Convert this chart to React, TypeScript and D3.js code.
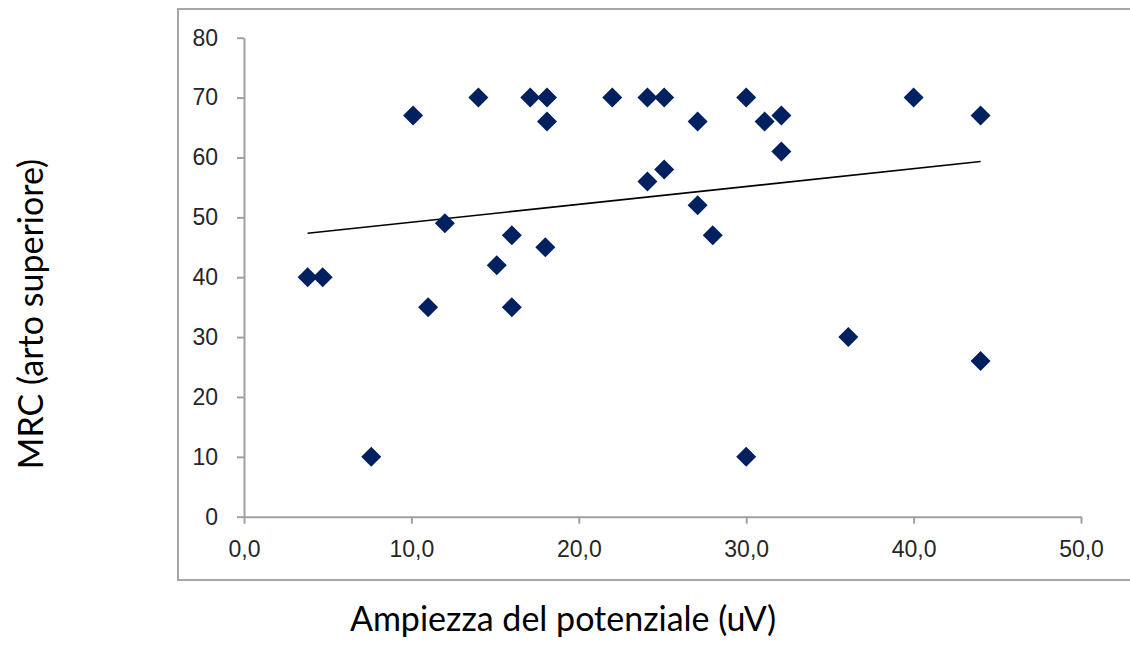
import { useEffect, useRef } from 'react';
import * as d3 from 'd3';

// values
const ampiezza = [3.8, 4.7, 7.6, 10.1, 11, 12, 14, 15.1, 16, 16, 17.1, 18.1, 18.1, 18, 22, 24.1, 24.1, 25.1, 25.1, 27.1, 27.1, 28, 30, 30, 31.1, 32.1, 32.1, 36.1, 40, 44, 44];
const mrc = [40, 40, 10, 67, 35, 49, 70, 42, 47, 35, 70, 70, 66, 45, 70, 70, 56, 70, 58, 66, 52, 47, 70, 10, 66, 67, 61, 30, 70, 67, 26];
const xTicks = [0, 10, 20, 30, 40, 50];
const yTicks = [0, 10, 20, 30, 40, 50, 60, 70, 80];

const width = 1130;
const height = 651;

const App = () => {
  const svgRef = useRef<SVGSVGElement>(null);

  useEffect(() => {
    document.body.style.margin = '0';
    const svg = d3.select(svgRef.current);
    svg.selectAll('*').remove();

    const x = d3.scaleLinear().domain([0, 50]).range([244, 1081]);
    const y = d3.scaleLinear().domain([0, 80]).range([516.7, 37.7]);

    // chart area border (no right edge visible in the reference)
    svg.append('path')
      .attr('d', `M${width + 5},9 H178 V580 H${width + 5}`)
      .attr('fill', 'none')
      .attr('stroke', '#a6a6a6')
      .attr('stroke-width', 2);

    const axisColor = '#a0a0a0';
    const tickFont = '"Liberation Sans", Arial, sans-serif';

    const gx = svg.append('g')
      .attr('transform', `translate(0,${y(0)})`)
      .call(d3.axisBottom(x).tickValues(xTicks).tickSize(7).tickSizeOuter(0)
        .tickFormat(d => (d as number).toFixed(1).replace('.', ',')));

    const gy = svg.append('g')
      .attr('transform', `translate(${x(0)},0)`)
      .call(d3.axisLeft(y).tickValues(yTicks).tickSize(7).tickSizeOuter(0));

    [gx, gy].forEach(g => {
      g.select('.domain').attr('stroke', axisColor).attr('stroke-width', 2);
      g.selectAll('.tick line').attr('stroke', axisColor).attr('stroke-width', 2);
      g.selectAll('.tick text')
        .attr('fill', '#262626')
        .style('font-family', tickFont)
        .style('font-size', '23px');
    });
    gx.selectAll('.tick text').attr('dy', 0).attr('y', 40);
    gy.selectAll('.tick text').attr('x', -26);

    // linear trend line (least squares)
    const mx = d3.mean(ampiezza)!;
    const my = d3.mean(mrc)!;
    const slope = d3.sum(ampiezza, (v, i) => (v - mx) * (mrc[i] - my)) /
      d3.sum(ampiezza, v => (v - mx) ** 2);
    const intercept = my - slope * mx;
    const [x0, x1] = d3.extent(ampiezza) as [number, number];
    svg.append('line')
      .attr('x1', x(x0)).attr('y1', y(intercept + slope * x0))
      .attr('x2', x(x1)).attr('y2', y(intercept + slope * x1))
      .attr('stroke', '#000')
      .attr('stroke-width', 1.6);

    const diamond = d3.symbol().type(d3.symbolSquare).size(200);
    svg.append('g')
      .selectAll('path')
      .data(ampiezza.map((v, i) => [v, mrc[i]]))
      .join('path')
      .attr('d', diamond)
      .attr('transform', d => `translate(${x(d[0])},${y(d[1])}) rotate(45)`)
      .attr('fill', '#002060');

    const titleFont = 'Lato, "Open Sans", sans-serif';
    svg.append('text')
      .attr('x', 563)
      .attr('y', 631)
      .attr('text-anchor', 'middle')
      .style('font-family', titleFont)
      .style('font-size', '34px')
      .attr('fill', '#000')
      .text('Ampiezza del potenziale (uV)');

    svg.append('text')
      .attr('transform', 'translate(43,314) rotate(-90)')
      .attr('text-anchor', 'middle')
      .style('font-family', titleFont)
      .style('font-size', '34px')
      .attr('fill', '#000')
      .text('MRC (arto superiore)');
  }, []);

  return <svg ref={svgRef} width={width} height={height} style={{ display: 'block', background: '#fff' }} />;
};

export default App;
